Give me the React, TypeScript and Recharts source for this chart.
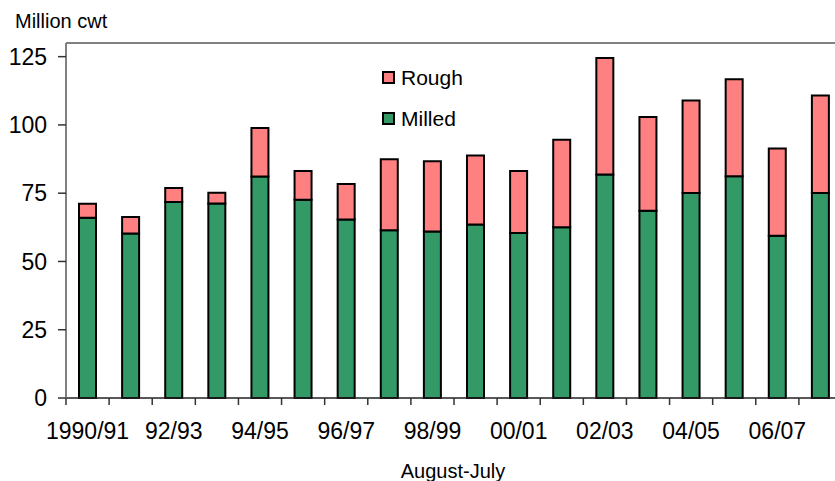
import { BarChart, Bar, XAxis, YAxis, ReferenceLine } from "recharts";

const years = [
  "1990/91", "91/92", "92/93", "93/94", "94/95", "95/96", "96/97", "97/98", "98/99",
  "99/00", "00/01", "01/02", "02/03", "03/04", "04/05", "05/06", "06/07", "07/08",
];
const milled = [66, 60.2, 71.8, 71.2, 81.1, 72.6, 65.4, 61.4, 61.0, 63.5, 60.4, 62.5, 81.8, 68.6, 75.1, 81.2, 59.4, 75.1];
const rough = [5.1, 6.1, 5.1, 4.0, 17.8, 10.5, 13.0, 26.0, 25.7, 25.3, 22.7, 32.1, 42.7, 34.3, 33.8, 35.5, 32.0, 35.7];
const yTicks = [0, 25, 50, 75, 100, 125];

const data = years.map((year, i) => ({ year, milled: milled[i], rough: rough[i] }));

const FONT = "'Liberation Sans', Arial, sans-serif";
const GREEN = "#339966";
const PINK = "#ff8080";
const W = 842;
const H = 481;
const LEFT = 66;
const STEP = (W - LEFT) / years.length;

// legend order: top to bottom
const legendItems = [
  { name: "Rough", color: PINK },
  { name: "Milled", color: GREEN },
];

function XTick(props: any) {
  const { x, y, index, payload } = props;
  const bx = x - STEP / 2;
  return (
    <g>
      <line x1={bx} y1={y} x2={bx} y2={y + 7} stroke="#333" strokeWidth={1.5} />
      {index % 2 === 0 && (
        <text x={x} y={y + 41} textAnchor="middle" fontSize={23} fill="#000" fontFamily={FONT}>
          {payload.value}
        </text>
      )}
    </g>
  );
}

export default function App() {
  return (
    <div
      style={{
        position: "fixed",
        top: 0,
        left: 0,
        width: 835,
        height: 481,
        overflow: "hidden",
        background: "#fff",
        fontFamily: FONT,
      }}
    >
      <div style={{ position: "absolute", left: 15, top: 11, fontSize: 20, lineHeight: "20px" }}>
        Million cwt
      </div>
      <BarChart width={W} height={H} data={data} margin={{ top: 43, right: 0, bottom: 0, left: 0 }}>
        <XAxis
          dataKey="year"
          interval={0}
          tickSize={0}
          tickMargin={0}
          height={83}
          axisLine={{ stroke: "#222", strokeWidth: 1.5 }}
          tick={<XTick />}
        />
        <YAxis
          domain={[0, 130]}
          ticks={yTicks}
          width={LEFT}
          tickSize={8}
          tickMargin={11}
          axisLine={{ stroke: "#808080", strokeWidth: 2 }}
          tickLine={{ stroke: "#333", strokeWidth: 1.5 }}
          tick={{ fontSize: 23, fill: "#000", fontFamily: FONT }}
        />
        <ReferenceLine y={130} stroke="#808080" strokeWidth={2} />
        <Bar dataKey="milled" name="Milled" stackId="a" fill={GREEN} stroke="#000" strokeWidth={2} barSize={17} isAnimationActive={false} />
        <Bar dataKey="rough" name="Rough" stackId="a" fill={PINK} stroke="#000" strokeWidth={2} barSize={17} isAnimationActive={false} />
      </BarChart>
      <div style={{ position: "absolute", left: 382, top: 57 }}>
        {legendItems.map((it) => (
          <div key={it.name} style={{ display: "flex", alignItems: "center", height: 41 }}>
            <span
              style={{
                width: 9,
                height: 9,
                background: it.color,
                border: "2.5px solid #000",
                marginRight: 6,
              }}
            />
            <span style={{ fontSize: 21, color: "#000" }}>{it.name}</span>
          </div>
        ))}
      </div>
      <div
        style={{
          position: "absolute",
          left: 453,
          top: 461,
          transform: "translateX(-50%)",
          fontSize: 20,
          lineHeight: "20px",
          whiteSpace: "nowrap",
        }}
      >
        August-July
      </div>
    </div>
  );
}
